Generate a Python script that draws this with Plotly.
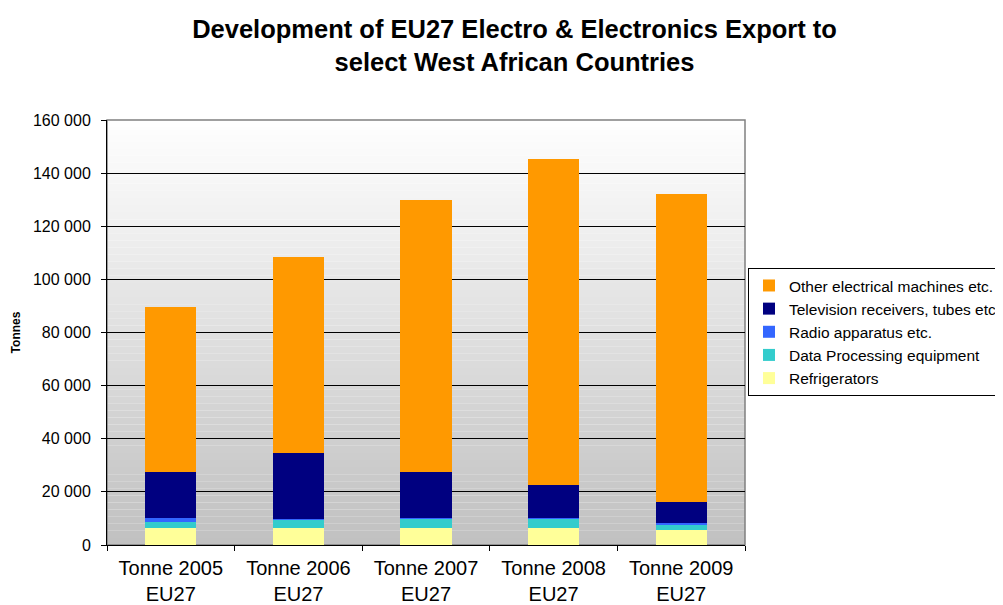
import plotly.graph_objects as go

categories = ["Tonne 2005<br>EU27", "Tonne 2006<br>EU27", "Tonne 2007<br>EU27", "Tonne 2008<br>EU27", "Tonne 2009<br>EU27"]
refrigerators = [6300, 6300, 6300, 6300, 5800]
data_processing = [2500, 3200, 3600, 3600, 2100]
radio = [1200, 200, 400, 400, 500]
television = [17300, 24800, 17000, 12400, 7900]
other = [62200, 74000, 102500, 122600, 115700]

series = [
    ("Refrigerators", refrigerators, "#FFFF99"),
    ("Data Processing equipment", data_processing, "#33CCCC"),
    ("Radio apparatus etc.", radio, "#3366FF"),
    ("Television receivers, tubes etc.", television, "#000080"),
    ("Other electrical machines etc.", other, "#FF9900"),
]

FONT = "Arial, Liberation Sans, sans-serif"
fig = go.Figure()
for name, vals, col in series:
    fig.add_trace(go.Bar(x=categories, y=vals, name=name, marker=dict(color=col, line=dict(width=0))))

# gradient background (white -> gray)
shapes = []
n = 60
for i in range(n):
    t = (i + 0.5) / n
    v = int(round(255 - (255 - 192) * (1 - t)))
    shapes.append(dict(type="rect", xref="x domain", yref="y domain", x0=0, x1=1,
                       y0=i / n, y1=(i + 1) / n, fillcolor=f"rgb({v},{v},{v})",
                       line=dict(width=0), layer="below"))
shapes.append(dict(type="rect", xref="x domain", yref="y domain", x0=0, x1=1, y0=0, y1=1,
                   line=dict(color="#808080", width=1.5), layer="below"))

fig.update_layout(
    barmode="stack",
    bargap=0.6,
    width=1003, height=605,
    margin=dict(l=99, r=266, t=112, b=68, autoexpand=False),
    paper_bgcolor="white",
    plot_bgcolor="rgba(0,0,0,0)",
    shapes=shapes,
    separators=", ",
    font=dict(family=FONT, color="black"),
    title=dict(text="<b>Development of EU27 Electro & Electronics Export to<br>select West African Countries</b>",
               x=0.505, xanchor="center", y=0.95, yanchor="top",
               font=dict(size=25.5, family=FONT, color="black")),
    legend=dict(x=1.0047, xanchor="left", y=0.652, yanchor="top",
                traceorder="reversed", bordercolor="black", borderwidth=1,
                bgcolor="white", font=dict(size=15.5, family=FONT),
                itemwidth=30, tracegroupgap=0),
    showlegend=True,
)
fig.update_xaxes(showline=True, linecolor="black", linewidth=1, ticks="outside",
                 tickson="boundaries", ticklen=5, tickcolor="black",
                 ticklabelstandoff=5,
                 tickfont=dict(size=20, family=FONT))
fig.update_yaxes(range=[0, 160000], dtick=20000, tickformat=",d", showgrid=True,
                 gridcolor="black", gridwidth=1, showline=True, linecolor="black",
                 ticks="outside", ticklen=5, tickcolor="black", ticklabelstandoff=7,
                 tickfont=dict(size=16, family=FONT), zeroline=False,
                 title=dict(text="<b>Tonnes</b>", font=dict(size=12, family=FONT), standoff=9))
fig.write_html("out.html")
